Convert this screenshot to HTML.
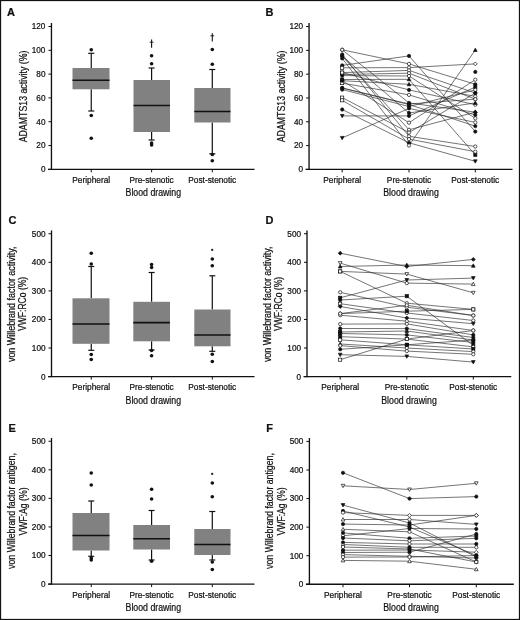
<!DOCTYPE html>
<html><head><meta charset="utf-8"><style>
html,body{margin:0;padding:0;background:#fff;}
body{width:520px;height:620px;overflow:hidden;font-family:"Liberation Sans", sans-serif;}
</style></head><body>
<svg width="520" height="620" viewBox="0 0 520 620" style="display:block;filter:grayscale(1)">
<g font-family='"Liberation Sans", sans-serif'>
<rect x="0" y="0" width="520" height="620" fill="#fff"/>
<rect x="0.5" y="0.5" width="519" height="619" fill="none" stroke="#111" stroke-width="1.25"/>
<text x="7.0" y="16.1" font-size="11" text-anchor="start" font-weight="bold" fill="#111" stroke="#111" stroke-width="0.22">A</text>
<text x="265.6" y="16.1" font-size="11" text-anchor="start" font-weight="bold" fill="#111" stroke="#111" stroke-width="0.22">B</text>
<text x="8.4" y="224.2" font-size="11" text-anchor="start" font-weight="bold" fill="#111" stroke="#111" stroke-width="0.22">C</text>
<text x="265.6" y="224.2" font-size="11" text-anchor="start" font-weight="bold" fill="#111" stroke="#111" stroke-width="0.22">D</text>
<text x="8.6" y="431.7" font-size="11" text-anchor="start" font-weight="bold" fill="#111" stroke="#111" stroke-width="0.22">E</text>
<text x="266.2" y="431.7" font-size="11" text-anchor="start" font-weight="bold" fill="#111" stroke="#111" stroke-width="0.22">F</text>
<line x1="51.45" y1="23" x2="51.45" y2="169.95" stroke="#111" stroke-width="1.35"/>
<line x1="48.45" y1="169.35" x2="51.45" y2="169.35" stroke="#111" stroke-width="1"/>
<text x="45.45" y="172.25" font-size="8.2" text-anchor="end" fill="#111" stroke="#111" stroke-width="0.22">0</text>
<line x1="48.45" y1="145.54" x2="51.45" y2="145.54" stroke="#111" stroke-width="1"/>
<text x="45.45" y="148.44" font-size="8.2" text-anchor="end" fill="#111" stroke="#111" stroke-width="0.22">20</text>
<line x1="48.45" y1="121.72999999999999" x2="51.45" y2="121.72999999999999" stroke="#111" stroke-width="1"/>
<text x="45.45" y="124.63" font-size="8.2" text-anchor="end" fill="#111" stroke="#111" stroke-width="0.22">40</text>
<line x1="48.45" y1="97.92" x2="51.45" y2="97.92" stroke="#111" stroke-width="1"/>
<text x="45.45" y="100.82000000000001" font-size="8.2" text-anchor="end" fill="#111" stroke="#111" stroke-width="0.22">60</text>
<line x1="48.45" y1="74.11" x2="51.45" y2="74.11" stroke="#111" stroke-width="1"/>
<text x="45.45" y="77.01" font-size="8.2" text-anchor="end" fill="#111" stroke="#111" stroke-width="0.22">80</text>
<line x1="48.45" y1="50.30000000000001" x2="51.45" y2="50.30000000000001" stroke="#111" stroke-width="1"/>
<text x="45.45" y="53.20000000000001" font-size="8.2" text-anchor="end" fill="#111" stroke="#111" stroke-width="0.22">100</text>
<line x1="48.45" y1="26.49000000000001" x2="51.45" y2="26.49000000000001" stroke="#111" stroke-width="1"/>
<text x="45.45" y="29.390000000000008" font-size="8.2" text-anchor="end" fill="#111" stroke="#111" stroke-width="0.22">120</text>
<line x1="47.95" y1="169.35" x2="254.5" y2="169.35" stroke="#111" stroke-width="1.3"/>
<line x1="91.25" y1="169.35" x2="91.25" y2="172.35" stroke="#111" stroke-width="1"/>
<line x1="151.6" y1="169.35" x2="151.6" y2="172.35" stroke="#111" stroke-width="1"/>
<line x1="212.3" y1="169.35" x2="212.3" y2="172.35" stroke="#111" stroke-width="1"/>
<text x="91.25" y="182.85" font-size="8.3" text-anchor="middle" fill="#111" stroke="#111" stroke-width="0.22">Peripheral</text>
<text x="151.6" y="182.85" font-size="8.3" text-anchor="middle" fill="#111" stroke="#111" stroke-width="0.22">Pre-stenotic</text>
<text x="212.3" y="182.85" font-size="8.3" text-anchor="middle" fill="#111" stroke="#111" stroke-width="0.22">Post-stenotic</text>
<text x="153.3" y="196.35" font-size="10" text-anchor="middle" textLength="55.5" lengthAdjust="spacingAndGlyphs" fill="#111" stroke="#111" stroke-width="0.22">Blood drawing</text>
<text x="27.3" y="96.45" font-size="10" text-anchor="middle" textLength="91.8" lengthAdjust="spacingAndGlyphs" transform="rotate(-90 27.3 96.45)" fill="#111" stroke="#111" stroke-width="0.22">ADAMTS13 activity (%)</text>
<line x1="91.25" y1="53.3" x2="91.25" y2="68" stroke="#111" stroke-width="1.2"/>
<line x1="91.25" y1="89.3" x2="91.25" y2="111" stroke="#111" stroke-width="1.2"/>
<line x1="88.25" y1="53.3" x2="94.25" y2="53.3" stroke="#111" stroke-width="1.2"/>
<line x1="88.25" y1="111" x2="94.25" y2="111" stroke="#111" stroke-width="1.2"/>
<rect x="72.5" y="68" width="37.0" height="21.299999999999997" fill="#818181"/>
<line x1="72.5" y1="80.2" x2="109.5" y2="80.2" stroke="#111" stroke-width="1.55"/>
<circle cx="91.25" cy="49.8" r="1.8" fill="#111"/>
<circle cx="91.25" cy="115.5" r="1.8" fill="#111"/>
<circle cx="91.25" cy="138.3" r="1.8" fill="#111"/>
<line x1="151.6" y1="68" x2="151.6" y2="80" stroke="#111" stroke-width="1.2"/>
<line x1="151.6" y1="132" x2="151.6" y2="140" stroke="#111" stroke-width="1.2"/>
<line x1="148.6" y1="68" x2="154.6" y2="68" stroke="#111" stroke-width="1.2"/>
<line x1="148.6" y1="140" x2="154.6" y2="140" stroke="#111" stroke-width="1.2"/>
<rect x="133.5" y="80" width="36.5" height="52" fill="#818181"/>
<line x1="133.5" y1="105.5" x2="170" y2="105.5" stroke="#111" stroke-width="1.55"/>
<circle cx="151.6" cy="55.8" r="1.8" fill="#111"/>
<circle cx="151.6" cy="63.8" r="1.8" fill="#111"/>
<circle cx="151.6" cy="143" r="1.8" fill="#111"/>
<circle cx="151.6" cy="145" r="1.8" fill="#111"/>
<line x1="212.3" y1="69.5" x2="212.3" y2="88" stroke="#111" stroke-width="1.2"/>
<line x1="212.3" y1="122.5" x2="212.3" y2="153.8" stroke="#111" stroke-width="1.2"/>
<line x1="209.3" y1="69.5" x2="215.3" y2="69.5" stroke="#111" stroke-width="1.2"/>
<line x1="209.3" y1="153.8" x2="215.3" y2="153.8" stroke="#111" stroke-width="1.2"/>
<rect x="194.3" y="88" width="36.19999999999999" height="34.5" fill="#818181"/>
<line x1="194.3" y1="111.5" x2="230.5" y2="111.5" stroke="#111" stroke-width="1.55"/>
<circle cx="212.3" cy="49.5" r="1.8" fill="#111"/>
<circle cx="212.3" cy="64.3" r="1.8" fill="#111"/>
<circle cx="212.3" cy="154.5" r="1.8" fill="#111"/>
<circle cx="212.3" cy="160.8" r="1.8" fill="#111"/>
<line x1="151.6" y1="39.5" x2="151.6" y2="47.7" stroke="#111" stroke-width="1.1"/>
<line x1="149.7" y1="42.2" x2="153.5" y2="42.2" stroke="#111" stroke-width="0.9"/>
<line x1="212.3" y1="33.3" x2="212.3" y2="41.5" stroke="#111" stroke-width="1.1"/>
<line x1="210.4" y1="35.8" x2="214.20000000000002" y2="35.8" stroke="#111" stroke-width="0.9"/>
<line x1="51.5" y1="230.5" x2="51.5" y2="377.20000000000005" stroke="#111" stroke-width="1.35"/>
<line x1="48.5" y1="376.6" x2="51.5" y2="376.6" stroke="#111" stroke-width="1"/>
<text x="45.5" y="379.5" font-size="8.2" text-anchor="end" fill="#111" stroke="#111" stroke-width="0.22">0</text>
<line x1="48.5" y1="348.03000000000003" x2="51.5" y2="348.03000000000003" stroke="#111" stroke-width="1"/>
<text x="45.5" y="350.93" font-size="8.2" text-anchor="end" fill="#111" stroke="#111" stroke-width="0.22">100</text>
<line x1="48.5" y1="319.46000000000004" x2="51.5" y2="319.46000000000004" stroke="#111" stroke-width="1"/>
<text x="45.5" y="322.36" font-size="8.2" text-anchor="end" fill="#111" stroke="#111" stroke-width="0.22">200</text>
<line x1="48.5" y1="290.89" x2="51.5" y2="290.89" stroke="#111" stroke-width="1"/>
<text x="45.5" y="293.78999999999996" font-size="8.2" text-anchor="end" fill="#111" stroke="#111" stroke-width="0.22">300</text>
<line x1="48.5" y1="262.32000000000005" x2="51.5" y2="262.32000000000005" stroke="#111" stroke-width="1"/>
<text x="45.5" y="265.22" font-size="8.2" text-anchor="end" fill="#111" stroke="#111" stroke-width="0.22">400</text>
<line x1="48.5" y1="233.75000000000003" x2="51.5" y2="233.75000000000003" stroke="#111" stroke-width="1"/>
<text x="45.5" y="236.65000000000003" font-size="8.2" text-anchor="end" fill="#111" stroke="#111" stroke-width="0.22">500</text>
<line x1="48.0" y1="376.6" x2="254.5" y2="376.6" stroke="#111" stroke-width="1.3"/>
<line x1="91.25" y1="376.6" x2="91.25" y2="379.6" stroke="#111" stroke-width="1"/>
<line x1="151.6" y1="376.6" x2="151.6" y2="379.6" stroke="#111" stroke-width="1"/>
<line x1="212.3" y1="376.6" x2="212.3" y2="379.6" stroke="#111" stroke-width="1"/>
<text x="91.25" y="390.1" font-size="8.3" text-anchor="middle" fill="#111" stroke="#111" stroke-width="0.22">Peripheral</text>
<text x="151.6" y="390.1" font-size="8.3" text-anchor="middle" fill="#111" stroke="#111" stroke-width="0.22">Pre-stenotic</text>
<text x="212.3" y="390.1" font-size="8.3" text-anchor="middle" fill="#111" stroke="#111" stroke-width="0.22">Post-stenotic</text>
<text x="153.3" y="403.6" font-size="10" text-anchor="middle" textLength="55.5" lengthAdjust="spacingAndGlyphs" fill="#111" stroke="#111" stroke-width="0.22">Blood drawing</text>
<text x="15.2" y="304.3" font-size="10" text-anchor="middle" textLength="115.6" lengthAdjust="spacingAndGlyphs" transform="rotate(-90 15.2 304.3)" fill="#111" stroke="#111" stroke-width="0.22">von Willebrand factor activity,</text>
<text x="26.5" y="303.9" font-size="10" text-anchor="middle" textLength="54.2" lengthAdjust="spacingAndGlyphs" transform="rotate(-90 26.5 303.9)" fill="#111" stroke="#111" stroke-width="0.22">VWF:RCo (%)</text>
<line x1="91.25" y1="266.5" x2="91.25" y2="298.3" stroke="#111" stroke-width="1.2"/>
<line x1="91.25" y1="343.8" x2="91.25" y2="350.3" stroke="#111" stroke-width="1.2"/>
<line x1="88.25" y1="266.5" x2="94.25" y2="266.5" stroke="#111" stroke-width="1.2"/>
<line x1="88.25" y1="350.3" x2="94.25" y2="350.3" stroke="#111" stroke-width="1.2"/>
<rect x="72.5" y="298.3" width="37.0" height="45.5" fill="#818181"/>
<line x1="72.5" y1="324" x2="109.5" y2="324" stroke="#111" stroke-width="1.55"/>
<circle cx="91.25" cy="253.3" r="1.8" fill="#111"/>
<circle cx="91.25" cy="264" r="1.8" fill="#111"/>
<circle cx="91.25" cy="354.5" r="1.8" fill="#111"/>
<circle cx="91.25" cy="359.5" r="1.8" fill="#111"/>
<line x1="151.6" y1="272.5" x2="151.6" y2="301.8" stroke="#111" stroke-width="1.2"/>
<line x1="151.6" y1="341.3" x2="151.6" y2="350" stroke="#111" stroke-width="1.2"/>
<line x1="148.6" y1="272.5" x2="154.6" y2="272.5" stroke="#111" stroke-width="1.2"/>
<line x1="148.6" y1="350" x2="154.6" y2="350" stroke="#111" stroke-width="1.2"/>
<rect x="133.3" y="301.8" width="36.69999999999999" height="39.5" fill="#818181"/>
<line x1="133.3" y1="322.6" x2="170" y2="322.6" stroke="#111" stroke-width="1.55"/>
<circle cx="151.6" cy="264.5" r="1.8" fill="#111"/>
<circle cx="151.6" cy="267.5" r="1.8" fill="#111"/>
<circle cx="151.6" cy="350.5" r="1.8" fill="#111"/>
<circle cx="151.6" cy="355.8" r="1.8" fill="#111"/>
<line x1="212.3" y1="275.8" x2="212.3" y2="309.5" stroke="#111" stroke-width="1.2"/>
<line x1="212.3" y1="346.3" x2="212.3" y2="351.3" stroke="#111" stroke-width="1.2"/>
<line x1="209.3" y1="275.8" x2="215.3" y2="275.8" stroke="#111" stroke-width="1.2"/>
<line x1="209.3" y1="351.3" x2="215.3" y2="351.3" stroke="#111" stroke-width="1.2"/>
<rect x="194.3" y="309.5" width="36.19999999999999" height="36.80000000000001" fill="#818181"/>
<line x1="194.3" y1="335" x2="230.5" y2="335" stroke="#111" stroke-width="1.55"/>
<circle cx="212.3" cy="259" r="1.8" fill="#111"/>
<circle cx="212.3" cy="265.8" r="1.8" fill="#111"/>
<circle cx="212.3" cy="354.3" r="1.8" fill="#111"/>
<circle cx="212.3" cy="361.5" r="1.8" fill="#111"/>
<circle cx="212.2" cy="249.9" r="1.15" fill="#222"/>
<line x1="51.5" y1="438" x2="51.5" y2="584.65" stroke="#111" stroke-width="1.35"/>
<line x1="48.5" y1="584.05" x2="51.5" y2="584.05" stroke="#111" stroke-width="1"/>
<text x="45.5" y="586.9499999999999" font-size="8.2" text-anchor="end" fill="#111" stroke="#111" stroke-width="0.22">0</text>
<line x1="48.5" y1="555.49" x2="51.5" y2="555.49" stroke="#111" stroke-width="1"/>
<text x="45.5" y="558.39" font-size="8.2" text-anchor="end" fill="#111" stroke="#111" stroke-width="0.22">100</text>
<line x1="48.5" y1="526.93" x2="51.5" y2="526.93" stroke="#111" stroke-width="1"/>
<text x="45.5" y="529.8299999999999" font-size="8.2" text-anchor="end" fill="#111" stroke="#111" stroke-width="0.22">200</text>
<line x1="48.5" y1="498.36999999999995" x2="51.5" y2="498.36999999999995" stroke="#111" stroke-width="1"/>
<text x="45.5" y="501.2699999999999" font-size="8.2" text-anchor="end" fill="#111" stroke="#111" stroke-width="0.22">300</text>
<line x1="48.5" y1="469.80999999999995" x2="51.5" y2="469.80999999999995" stroke="#111" stroke-width="1"/>
<text x="45.5" y="472.7099999999999" font-size="8.2" text-anchor="end" fill="#111" stroke="#111" stroke-width="0.22">400</text>
<line x1="48.5" y1="441.24999999999994" x2="51.5" y2="441.24999999999994" stroke="#111" stroke-width="1"/>
<text x="45.5" y="444.1499999999999" font-size="8.2" text-anchor="end" fill="#111" stroke="#111" stroke-width="0.22">500</text>
<line x1="48.0" y1="584.05" x2="254.5" y2="584.05" stroke="#111" stroke-width="1.3"/>
<line x1="91.25" y1="584.05" x2="91.25" y2="587.05" stroke="#111" stroke-width="1"/>
<line x1="151.6" y1="584.05" x2="151.6" y2="587.05" stroke="#111" stroke-width="1"/>
<line x1="212.3" y1="584.05" x2="212.3" y2="587.05" stroke="#111" stroke-width="1"/>
<text x="91.25" y="597.55" font-size="8.3" text-anchor="middle" fill="#111" stroke="#111" stroke-width="0.22">Peripheral</text>
<text x="151.6" y="597.55" font-size="8.3" text-anchor="middle" fill="#111" stroke="#111" stroke-width="0.22">Pre-stenotic</text>
<text x="212.3" y="597.55" font-size="8.3" text-anchor="middle" fill="#111" stroke="#111" stroke-width="0.22">Post-stenotic</text>
<text x="153.3" y="611.05" font-size="10" text-anchor="middle" textLength="55.5" lengthAdjust="spacingAndGlyphs" fill="#111" stroke="#111" stroke-width="0.22">Blood drawing</text>
<text x="15.2" y="511" font-size="10" text-anchor="middle" textLength="115.8" lengthAdjust="spacingAndGlyphs" transform="rotate(-90 15.2 511)" fill="#111" stroke="#111" stroke-width="0.22">von Willebrand factor antigen,</text>
<text x="26.5" y="511.5" font-size="10" text-anchor="middle" textLength="48.1" lengthAdjust="spacingAndGlyphs" transform="rotate(-90 26.5 511.5)" fill="#111" stroke="#111" stroke-width="0.22">VWF:Ag (%)</text>
<line x1="91.25" y1="501" x2="91.25" y2="513" stroke="#111" stroke-width="1.2"/>
<line x1="91.25" y1="550.5" x2="91.25" y2="556.3" stroke="#111" stroke-width="1.2"/>
<line x1="88.25" y1="501" x2="94.25" y2="501" stroke="#111" stroke-width="1.2"/>
<line x1="88.25" y1="556.3" x2="94.25" y2="556.3" stroke="#111" stroke-width="1.2"/>
<rect x="72.5" y="513" width="37.0" height="37.5" fill="#818181"/>
<line x1="72.5" y1="535.5" x2="109.5" y2="535.5" stroke="#111" stroke-width="1.55"/>
<circle cx="91.25" cy="473" r="1.8" fill="#111"/>
<circle cx="91.25" cy="485" r="1.8" fill="#111"/>
<circle cx="91.25" cy="558" r="1.8" fill="#111"/>
<circle cx="91.25" cy="560" r="1.8" fill="#111"/>
<line x1="151.6" y1="510.5" x2="151.6" y2="525" stroke="#111" stroke-width="1.2"/>
<line x1="151.6" y1="549.5" x2="151.6" y2="560" stroke="#111" stroke-width="1.2"/>
<line x1="148.6" y1="510.5" x2="154.6" y2="510.5" stroke="#111" stroke-width="1.2"/>
<line x1="148.6" y1="560" x2="154.6" y2="560" stroke="#111" stroke-width="1.2"/>
<rect x="133.3" y="525" width="36.69999999999999" height="24.5" fill="#818181"/>
<line x1="133.3" y1="538.8" x2="170" y2="538.8" stroke="#111" stroke-width="1.55"/>
<circle cx="151.6" cy="489.3" r="1.8" fill="#111"/>
<circle cx="151.6" cy="499" r="1.8" fill="#111"/>
<circle cx="151.6" cy="561.3" r="1.8" fill="#111"/>
<line x1="212.3" y1="511.5" x2="212.3" y2="529" stroke="#111" stroke-width="1.2"/>
<line x1="212.3" y1="555" x2="212.3" y2="560" stroke="#111" stroke-width="1.2"/>
<line x1="209.3" y1="511.5" x2="215.3" y2="511.5" stroke="#111" stroke-width="1.2"/>
<line x1="209.3" y1="560" x2="215.3" y2="560" stroke="#111" stroke-width="1.2"/>
<rect x="194.3" y="529" width="36.19999999999999" height="26" fill="#818181"/>
<line x1="194.3" y1="544.5" x2="230.5" y2="544.5" stroke="#111" stroke-width="1.55"/>
<circle cx="212.3" cy="483" r="1.8" fill="#111"/>
<circle cx="212.3" cy="496.8" r="1.8" fill="#111"/>
<circle cx="212.3" cy="562" r="1.8" fill="#111"/>
<circle cx="212.3" cy="569.5" r="1.8" fill="#111"/>
<circle cx="212.2" cy="473.9" r="1.15" fill="#222"/>
<line x1="309.05" y1="23" x2="309.05" y2="170.0" stroke="#111" stroke-width="1.35"/>
<line x1="306.05" y1="169.4" x2="309.05" y2="169.4" stroke="#111" stroke-width="1"/>
<text x="303.05" y="172.3" font-size="8.2" text-anchor="end" fill="#111" stroke="#111" stroke-width="0.22">0</text>
<line x1="306.05" y1="145.59" x2="309.05" y2="145.59" stroke="#111" stroke-width="1"/>
<text x="303.05" y="148.49" font-size="8.2" text-anchor="end" fill="#111" stroke="#111" stroke-width="0.22">20</text>
<line x1="306.05" y1="121.78" x2="309.05" y2="121.78" stroke="#111" stroke-width="1"/>
<text x="303.05" y="124.68" font-size="8.2" text-anchor="end" fill="#111" stroke="#111" stroke-width="0.22">40</text>
<line x1="306.05" y1="97.97000000000001" x2="309.05" y2="97.97000000000001" stroke="#111" stroke-width="1"/>
<text x="303.05" y="100.87000000000002" font-size="8.2" text-anchor="end" fill="#111" stroke="#111" stroke-width="0.22">60</text>
<line x1="306.05" y1="74.16000000000001" x2="309.05" y2="74.16000000000001" stroke="#111" stroke-width="1"/>
<text x="303.05" y="77.06000000000002" font-size="8.2" text-anchor="end" fill="#111" stroke="#111" stroke-width="0.22">80</text>
<line x1="306.05" y1="50.35000000000002" x2="309.05" y2="50.35000000000002" stroke="#111" stroke-width="1"/>
<text x="303.05" y="53.25000000000002" font-size="8.2" text-anchor="end" fill="#111" stroke="#111" stroke-width="0.22">100</text>
<line x1="306.05" y1="26.54000000000002" x2="309.05" y2="26.54000000000002" stroke="#111" stroke-width="1"/>
<text x="303.05" y="29.44000000000002" font-size="8.2" text-anchor="end" fill="#111" stroke="#111" stroke-width="0.22">120</text>
<line x1="305.55" y1="169.4" x2="512.5" y2="169.4" stroke="#111" stroke-width="1.3"/>
<line x1="342.2" y1="169.4" x2="342.2" y2="172.4" stroke="#111" stroke-width="1"/>
<line x1="409" y1="169.4" x2="409" y2="172.4" stroke="#111" stroke-width="1"/>
<line x1="475.3" y1="169.4" x2="475.3" y2="172.4" stroke="#111" stroke-width="1"/>
<text x="342.2" y="182.9" font-size="8.3" text-anchor="middle" fill="#111" stroke="#111" stroke-width="0.22">Peripheral</text>
<text x="409" y="182.9" font-size="8.3" text-anchor="middle" fill="#111" stroke="#111" stroke-width="0.22">Pre-stenotic</text>
<text x="475.3" y="182.9" font-size="8.3" text-anchor="middle" fill="#111" stroke="#111" stroke-width="0.22">Post-stenotic</text>
<text x="411" y="196.4" font-size="10" text-anchor="middle" textLength="55.5" lengthAdjust="spacingAndGlyphs" fill="#111" stroke="#111" stroke-width="0.22">Blood drawing</text>
<text x="285.3" y="96.4" font-size="10" text-anchor="middle" textLength="91.8" lengthAdjust="spacingAndGlyphs" transform="rotate(-90 285.3 96.4)" fill="#111" stroke="#111" stroke-width="0.22">ADAMTS13 activity (%)</text>
<line x1="307" y1="230.5" x2="307" y2="377.20000000000005" stroke="#111" stroke-width="1.35"/>
<line x1="304" y1="376.6" x2="307" y2="376.6" stroke="#111" stroke-width="1"/>
<text x="301" y="379.5" font-size="8.2" text-anchor="end" fill="#111" stroke="#111" stroke-width="0.22">0</text>
<line x1="304" y1="348.03000000000003" x2="307" y2="348.03000000000003" stroke="#111" stroke-width="1"/>
<text x="301" y="350.93" font-size="8.2" text-anchor="end" fill="#111" stroke="#111" stroke-width="0.22">100</text>
<line x1="304" y1="319.46000000000004" x2="307" y2="319.46000000000004" stroke="#111" stroke-width="1"/>
<text x="301" y="322.36" font-size="8.2" text-anchor="end" fill="#111" stroke="#111" stroke-width="0.22">200</text>
<line x1="304" y1="290.89" x2="307" y2="290.89" stroke="#111" stroke-width="1"/>
<text x="301" y="293.78999999999996" font-size="8.2" text-anchor="end" fill="#111" stroke="#111" stroke-width="0.22">300</text>
<line x1="304" y1="262.32000000000005" x2="307" y2="262.32000000000005" stroke="#111" stroke-width="1"/>
<text x="301" y="265.22" font-size="8.2" text-anchor="end" fill="#111" stroke="#111" stroke-width="0.22">400</text>
<line x1="304" y1="233.75000000000003" x2="307" y2="233.75000000000003" stroke="#111" stroke-width="1"/>
<text x="301" y="236.65000000000003" font-size="8.2" text-anchor="end" fill="#111" stroke="#111" stroke-width="0.22">500</text>
<line x1="303.5" y1="376.6" x2="511.3" y2="376.6" stroke="#111" stroke-width="1.3"/>
<line x1="340.2" y1="376.6" x2="340.2" y2="379.6" stroke="#111" stroke-width="1"/>
<line x1="406.8" y1="376.6" x2="406.8" y2="379.6" stroke="#111" stroke-width="1"/>
<line x1="473.3" y1="376.6" x2="473.3" y2="379.6" stroke="#111" stroke-width="1"/>
<text x="340.2" y="390.1" font-size="8.3" text-anchor="middle" fill="#111" stroke="#111" stroke-width="0.22">Peripheral</text>
<text x="406.8" y="390.1" font-size="8.3" text-anchor="middle" fill="#111" stroke="#111" stroke-width="0.22">Pre-stenotic</text>
<text x="473.3" y="390.1" font-size="8.3" text-anchor="middle" fill="#111" stroke="#111" stroke-width="0.22">Post-stenotic</text>
<text x="409" y="403.6" font-size="10" text-anchor="middle" textLength="55.5" lengthAdjust="spacingAndGlyphs" fill="#111" stroke="#111" stroke-width="0.22">Blood drawing</text>
<text x="270.6" y="304.3" font-size="10" text-anchor="middle" textLength="115.6" lengthAdjust="spacingAndGlyphs" transform="rotate(-90 270.6 304.3)" fill="#111" stroke="#111" stroke-width="0.22">von Willebrand factor activity,</text>
<text x="281.8" y="303.9" font-size="10" text-anchor="middle" textLength="54.2" lengthAdjust="spacingAndGlyphs" transform="rotate(-90 281.8 303.9)" fill="#111" stroke="#111" stroke-width="0.22">VWF:RCo (%)</text>
<line x1="309.4" y1="438" x2="309.4" y2="584.85" stroke="#111" stroke-width="1.35"/>
<line x1="306.4" y1="584.25" x2="309.4" y2="584.25" stroke="#111" stroke-width="1"/>
<text x="303.4" y="587.15" font-size="8.2" text-anchor="end" fill="#111" stroke="#111" stroke-width="0.22">0</text>
<line x1="306.4" y1="555.69" x2="309.4" y2="555.69" stroke="#111" stroke-width="1"/>
<text x="303.4" y="558.59" font-size="8.2" text-anchor="end" fill="#111" stroke="#111" stroke-width="0.22">100</text>
<line x1="306.4" y1="527.13" x2="309.4" y2="527.13" stroke="#111" stroke-width="1"/>
<text x="303.4" y="530.03" font-size="8.2" text-anchor="end" fill="#111" stroke="#111" stroke-width="0.22">200</text>
<line x1="306.4" y1="498.57" x2="309.4" y2="498.57" stroke="#111" stroke-width="1"/>
<text x="303.4" y="501.46999999999997" font-size="8.2" text-anchor="end" fill="#111" stroke="#111" stroke-width="0.22">300</text>
<line x1="306.4" y1="470.01" x2="309.4" y2="470.01" stroke="#111" stroke-width="1"/>
<text x="303.4" y="472.90999999999997" font-size="8.2" text-anchor="end" fill="#111" stroke="#111" stroke-width="0.22">400</text>
<line x1="306.4" y1="441.45" x2="309.4" y2="441.45" stroke="#111" stroke-width="1"/>
<text x="303.4" y="444.34999999999997" font-size="8.2" text-anchor="end" fill="#111" stroke="#111" stroke-width="0.22">500</text>
<line x1="305.9" y1="584.25" x2="513.8" y2="584.25" stroke="#111" stroke-width="1.3"/>
<line x1="343" y1="584.25" x2="343" y2="587.25" stroke="#111" stroke-width="1"/>
<line x1="409.5" y1="584.25" x2="409.5" y2="587.25" stroke="#111" stroke-width="1"/>
<line x1="476.3" y1="584.25" x2="476.3" y2="587.25" stroke="#111" stroke-width="1"/>
<text x="343" y="597.75" font-size="8.3" text-anchor="middle" fill="#111" stroke="#111" stroke-width="0.22">Peripheral</text>
<text x="409.5" y="597.75" font-size="8.3" text-anchor="middle" fill="#111" stroke="#111" stroke-width="0.22">Pre-stenotic</text>
<text x="476.3" y="597.75" font-size="8.3" text-anchor="middle" fill="#111" stroke="#111" stroke-width="0.22">Post-stenotic</text>
<text x="411" y="611.25" font-size="10" text-anchor="middle" textLength="55.5" lengthAdjust="spacingAndGlyphs" fill="#111" stroke="#111" stroke-width="0.22">Blood drawing</text>
<text x="273.2" y="511" font-size="10" text-anchor="middle" textLength="115.8" lengthAdjust="spacingAndGlyphs" transform="rotate(-90 273.2 511)" fill="#111" stroke="#111" stroke-width="0.22">von Willebrand factor antigen,</text>
<text x="284.8" y="511.5" font-size="10" text-anchor="middle" textLength="48.1" lengthAdjust="spacingAndGlyphs" transform="rotate(-90 284.8 511.5)" fill="#111" stroke="#111" stroke-width="0.22">VWF:Ag (%)</text>
<polyline points="342.2,49.8 409,63.9 475.3,84.3" fill="none" stroke="#2a2a2a" stroke-width="0.65"/>
<polyline points="342.2,49.8 409,102.9 475.3,112.2" fill="none" stroke="#2a2a2a" stroke-width="0.65"/>
<polyline points="342.2,65.4 409,55.9 475.3,131.6" fill="none" stroke="#2a2a2a" stroke-width="0.65"/>
<polyline points="342.2,137.9 409,108.4 475.3,122.4" fill="none" stroke="#2a2a2a" stroke-width="0.65"/>
<polyline points="342.2,115.9 409,115.9 475.3,87.1" fill="none" stroke="#2a2a2a" stroke-width="0.65"/>
<polyline points="342.2,109.5 409,142.8 475.3,161.3" fill="none" stroke="#2a2a2a" stroke-width="0.65"/>
<polyline points="342.2,54.5 409,136.3 475.3,146.5" fill="none" stroke="#2a2a2a" stroke-width="0.65"/>
<polyline points="342.2,56.1 409,129.8 475.3,112.2" fill="none" stroke="#2a2a2a" stroke-width="0.65"/>
<polyline points="342.2,58.4 409,145.5 475.3,50" fill="none" stroke="#2a2a2a" stroke-width="0.65"/>
<polyline points="342.2,67.8 409,67.6 475.3,63.9" fill="none" stroke="#2a2a2a" stroke-width="0.65"/>
<polyline points="342.2,72.6 409,70.4 475.3,93" fill="none" stroke="#2a2a2a" stroke-width="0.65"/>
<polyline points="342.2,74.5 409,73.2 475.3,99.2" fill="none" stroke="#2a2a2a" stroke-width="0.65"/>
<polyline points="342.2,75.6 409,76 475.3,118.3" fill="none" stroke="#2a2a2a" stroke-width="0.65"/>
<polyline points="342.2,79.5 409,79.3 475.3,154.8" fill="none" stroke="#2a2a2a" stroke-width="0.65"/>
<polyline points="342.2,80.7 409,84.3 475.3,96.4" fill="none" stroke="#2a2a2a" stroke-width="0.65"/>
<polyline points="342.2,83.1 409,94.9 475.3,114.9" fill="none" stroke="#2a2a2a" stroke-width="0.65"/>
<polyline points="342.2,88 409,104.5 475.3,126.1" fill="none" stroke="#2a2a2a" stroke-width="0.65"/>
<polyline points="342.2,89.6 409,106.5 475.3,89.9" fill="none" stroke="#2a2a2a" stroke-width="0.65"/>
<polyline points="342.2,97.6 409,132.6 475.3,93" fill="none" stroke="#2a2a2a" stroke-width="0.65"/>
<polyline points="342.2,100.3 409,139.1 475.3,151.7" fill="none" stroke="#2a2a2a" stroke-width="0.65"/>
<polyline points="342.2,72.6 409,89.9 475.3,104.7" fill="none" stroke="#2a2a2a" stroke-width="0.65"/>
<polyline points="342.2,56.1 409,113 475.3,102.9" fill="none" stroke="#2a2a2a" stroke-width="0.65"/>
<polyline points="342.2,80.7 409,122.7 475.3,79.7" fill="none" stroke="#2a2a2a" stroke-width="0.65"/>
<polyline points="342.2,88 409,104 475.3,99.2" fill="none" stroke="#2a2a2a" stroke-width="0.65"/>
<circle cx="342.2" cy="49.8" r="1.65" fill="#fff" stroke="#111" stroke-width="0.7"/>
<circle cx="409" cy="63.9" r="1.65" fill="#fff" stroke="#111" stroke-width="0.7"/>
<circle cx="475.3" cy="84.3" r="1.65" fill="#111" stroke="#111" stroke-width="0.7"/>
<circle cx="342.2" cy="49.8" r="1.65" fill="#fff" stroke="#111" stroke-width="0.7"/>
<circle cx="409" cy="102.9" r="1.65" fill="#111" stroke="#111" stroke-width="0.7"/>
<polygon points="475.3,110.25 477.25,112.2 475.3,114.15 473.35,112.2" fill="#111" stroke="#111" stroke-width="0.7"/>
<circle cx="342.2" cy="65.4" r="1.65" fill="#111" stroke="#111" stroke-width="0.7"/>
<circle cx="409" cy="55.9" r="1.65" fill="#111" stroke="#111" stroke-width="0.7"/>
<circle cx="475.3" cy="131.6" r="1.65" fill="#111" stroke="#111" stroke-width="0.7"/>
<polygon points="340.34999999999997,136.42000000000002 344.05,136.42000000000002 342.2,139.75" fill="#111" stroke="#111" stroke-width="0.7"/>
<circle cx="409" cy="108.4" r="1.65" fill="#111" stroke="#111" stroke-width="0.7"/>
<circle cx="475.3" cy="122.4" r="1.65" fill="#fff" stroke="#111" stroke-width="0.7"/>
<polygon points="340.34999999999997,114.42 344.05,114.42 342.2,117.75" fill="#111" stroke="#111" stroke-width="0.7"/>
<circle cx="409" cy="115.9" r="1.65" fill="#111" stroke="#111" stroke-width="0.7"/>
<rect x="473.75" y="85.55" width="3.1" height="3.1" fill="#111" stroke="#111" stroke-width="0.7"/>
<circle cx="342.2" cy="109.5" r="1.65" fill="#111" stroke="#111" stroke-width="0.7"/>
<circle cx="409" cy="142.8" r="1.65" fill="#111" stroke="#111" stroke-width="0.7"/>
<polygon points="473.45,159.82000000000002 477.15000000000003,159.82000000000002 475.3,163.15" fill="#111" stroke="#111" stroke-width="0.7"/>
<circle cx="342.2" cy="54.5" r="1.65" fill="#111" stroke="#111" stroke-width="0.7"/>
<circle cx="409" cy="136.3" r="1.65" fill="#fff" stroke="#111" stroke-width="0.7"/>
<circle cx="475.3" cy="146.5" r="1.65" fill="#fff" stroke="#111" stroke-width="0.7"/>
<circle cx="342.2" cy="56.1" r="1.65" fill="#111" stroke="#111" stroke-width="0.7"/>
<circle cx="409" cy="129.8" r="1.65" fill="#fff" stroke="#111" stroke-width="0.7"/>
<polygon points="475.3,110.25 477.25,112.2 475.3,114.15 473.35,112.2" fill="#111" stroke="#111" stroke-width="0.7"/>
<circle cx="342.2" cy="58.4" r="1.65" fill="#111" stroke="#111" stroke-width="0.7"/>
<circle cx="409" cy="145.5" r="1.65" fill="#fff" stroke="#111" stroke-width="0.7"/>
<polygon points="473.45,51.48 477.15000000000003,51.48 475.3,48.15" fill="#111" stroke="#111" stroke-width="0.7"/>
<rect x="340.65" y="66.25" width="3.1" height="3.1" fill="#fff" stroke="#111" stroke-width="0.7"/>
<circle cx="409" cy="67.6" r="1.65" fill="#fff" stroke="#111" stroke-width="0.7"/>
<polygon points="475.3,61.949999999999996 477.25,63.9 475.3,65.85 473.35,63.9" fill="#fff" stroke="#111" stroke-width="0.7"/>
<rect x="340.65" y="71.05" width="3.1" height="3.1" fill="#fff" stroke="#111" stroke-width="0.7"/>
<circle cx="409" cy="70.4" r="1.65" fill="#fff" stroke="#111" stroke-width="0.7"/>
<circle cx="475.3" cy="93" r="1.65" fill="#111" stroke="#111" stroke-width="0.7"/>
<circle cx="342.2" cy="74.5" r="1.65" fill="#111" stroke="#111" stroke-width="0.7"/>
<circle cx="409" cy="73.2" r="1.65" fill="#fff" stroke="#111" stroke-width="0.7"/>
<circle cx="475.3" cy="99.2" r="1.65" fill="#fff" stroke="#111" stroke-width="0.7"/>
<circle cx="342.2" cy="75.6" r="1.65" fill="#111" stroke="#111" stroke-width="0.7"/>
<circle cx="409" cy="76" r="1.65" fill="#fff" stroke="#111" stroke-width="0.7"/>
<circle cx="475.3" cy="118.3" r="1.65" fill="#fff" stroke="#111" stroke-width="0.7"/>
<rect x="340.65" y="77.95" width="3.1" height="3.1" fill="#111" stroke="#111" stroke-width="0.7"/>
<polygon points="407.15,80.78 410.85,80.78 409,77.45" fill="#111" stroke="#111" stroke-width="0.7"/>
<rect x="473.75" y="153.25" width="3.1" height="3.1" fill="#111" stroke="#111" stroke-width="0.7"/>
<circle cx="342.2" cy="80.7" r="1.65" fill="#111" stroke="#111" stroke-width="0.7"/>
<polygon points="407.15,85.78 410.85,85.78 409,82.45" fill="#111" stroke="#111" stroke-width="0.7"/>
<circle cx="475.3" cy="96.4" r="1.65" fill="#fff" stroke="#111" stroke-width="0.7"/>
<rect x="340.65" y="81.55" width="3.1" height="3.1" fill="#fff" stroke="#111" stroke-width="0.7"/>
<circle cx="409" cy="94.9" r="1.65" fill="#fff" stroke="#111" stroke-width="0.7"/>
<circle cx="475.3" cy="114.9" r="1.65" fill="#111" stroke="#111" stroke-width="0.7"/>
<circle cx="342.2" cy="88" r="1.65" fill="#111" stroke="#111" stroke-width="0.7"/>
<circle cx="409" cy="104.5" r="1.65" fill="#111" stroke="#111" stroke-width="0.7"/>
<circle cx="475.3" cy="126.1" r="1.65" fill="#111" stroke="#111" stroke-width="0.7"/>
<circle cx="342.2" cy="89.6" r="1.65" fill="#111" stroke="#111" stroke-width="0.7"/>
<circle cx="409" cy="106.5" r="1.65" fill="#111" stroke="#111" stroke-width="0.7"/>
<circle cx="475.3" cy="89.9" r="1.65" fill="#fff" stroke="#111" stroke-width="0.7"/>
<rect x="340.65" y="96.05" width="3.1" height="3.1" fill="#fff" stroke="#111" stroke-width="0.7"/>
<circle cx="409" cy="132.6" r="1.65" fill="#fff" stroke="#111" stroke-width="0.7"/>
<circle cx="475.3" cy="93" r="1.65" fill="#111" stroke="#111" stroke-width="0.7"/>
<rect x="340.65" y="98.75" width="3.1" height="3.1" fill="#fff" stroke="#111" stroke-width="0.7"/>
<circle cx="409" cy="139.1" r="1.65" fill="#fff" stroke="#111" stroke-width="0.7"/>
<circle cx="475.3" cy="151.7" r="1.65" fill="#fff" stroke="#111" stroke-width="0.7"/>
<rect x="340.65" y="71.05" width="3.1" height="3.1" fill="#fff" stroke="#111" stroke-width="0.7"/>
<circle cx="409" cy="89.9" r="1.65" fill="#111" stroke="#111" stroke-width="0.7"/>
<circle cx="475.3" cy="104.7" r="1.65" fill="#fff" stroke="#111" stroke-width="0.7"/>
<circle cx="342.2" cy="56.1" r="1.65" fill="#111" stroke="#111" stroke-width="0.7"/>
<circle cx="409" cy="113" r="1.65" fill="#111" stroke="#111" stroke-width="0.7"/>
<polygon points="473.45,104.38000000000001 477.15000000000003,104.38000000000001 475.3,101.05000000000001" fill="#111" stroke="#111" stroke-width="0.7"/>
<circle cx="342.2" cy="80.7" r="1.65" fill="#111" stroke="#111" stroke-width="0.7"/>
<circle cx="409" cy="122.7" r="1.65" fill="#fff" stroke="#111" stroke-width="0.7"/>
<circle cx="475.3" cy="79.7" r="1.65" fill="#fff" stroke="#111" stroke-width="0.7"/>
<circle cx="342.2" cy="88" r="1.65" fill="#111" stroke="#111" stroke-width="0.7"/>
<circle cx="409" cy="104" r="1.65" fill="#111" stroke="#111" stroke-width="0.7"/>
<circle cx="475.3" cy="99.2" r="1.65" fill="#fff" stroke="#111" stroke-width="0.7"/>
<circle cx="475.3" cy="71.9" r="1.65" fill="#111" stroke="#111" stroke-width="0.7"/>
<polyline points="340.2,253.2 406.8,266.5 473.3,259.4" fill="none" stroke="#2a2a2a" stroke-width="0.65"/>
<polyline points="340.2,266.5 406.8,265 473.3,265.7" fill="none" stroke="#2a2a2a" stroke-width="0.65"/>
<polyline points="340.2,263.1 406.8,283.1 473.3,284.1" fill="none" stroke="#2a2a2a" stroke-width="0.65"/>
<polyline points="340.2,271.4 406.8,274.1 473.3,292.8" fill="none" stroke="#2a2a2a" stroke-width="0.65"/>
<polyline points="340.2,271.4 406.8,303.2 473.3,309.4" fill="none" stroke="#2a2a2a" stroke-width="0.65"/>
<polyline points="340.2,292.3 406.8,307.2 473.3,315.5" fill="none" stroke="#2a2a2a" stroke-width="0.65"/>
<polyline points="340.2,297.8 406.8,280 473.3,278.1" fill="none" stroke="#2a2a2a" stroke-width="0.65"/>
<polyline points="340.2,300 406.8,296.2 473.3,345.4" fill="none" stroke="#2a2a2a" stroke-width="0.65"/>
<polyline points="340.2,303.7 406.8,313 473.3,320.5" fill="none" stroke="#2a2a2a" stroke-width="0.65"/>
<polyline points="340.2,306.5 406.8,318 473.3,323.7" fill="none" stroke="#2a2a2a" stroke-width="0.65"/>
<polyline points="340.2,313.6 406.8,311.2 473.3,309.4" fill="none" stroke="#2a2a2a" stroke-width="0.65"/>
<polyline points="340.2,315.2 406.8,321.2 473.3,330.5" fill="none" stroke="#2a2a2a" stroke-width="0.65"/>
<polyline points="340.2,324.1 406.8,323.9 473.3,334.9" fill="none" stroke="#2a2a2a" stroke-width="0.65"/>
<polyline points="340.2,328.5 406.8,328.6 473.3,337.5" fill="none" stroke="#2a2a2a" stroke-width="0.65"/>
<polyline points="340.2,332 406.8,331 473.3,340" fill="none" stroke="#2a2a2a" stroke-width="0.65"/>
<polyline points="340.2,333.5 406.8,334.9 473.3,342.5" fill="none" stroke="#2a2a2a" stroke-width="0.65"/>
<polyline points="340.2,336.7 406.8,339.1 473.3,346.9" fill="none" stroke="#2a2a2a" stroke-width="0.65"/>
<polyline points="340.2,339.8 406.8,344.8 473.3,349" fill="none" stroke="#2a2a2a" stroke-width="0.65"/>
<polyline points="340.2,344 406.8,348 473.3,351.6" fill="none" stroke="#2a2a2a" stroke-width="0.65"/>
<polyline points="340.2,345.6 406.8,351.1 473.3,354.3" fill="none" stroke="#2a2a2a" stroke-width="0.65"/>
<polyline points="340.2,349.3 406.8,344.8 473.3,340" fill="none" stroke="#2a2a2a" stroke-width="0.65"/>
<polyline points="340.2,354.7 406.8,356.4 473.3,362.1" fill="none" stroke="#2a2a2a" stroke-width="0.65"/>
<polyline points="340.2,359.7 406.8,339.1 473.3,330.5" fill="none" stroke="#2a2a2a" stroke-width="0.65"/>
<polyline points="340.2,313.6 406.8,305.3 473.3,315.5" fill="none" stroke="#2a2a2a" stroke-width="0.65"/>
<polygon points="340.2,251.25 342.15,253.2 340.2,255.14999999999998 338.25,253.2" fill="#111" stroke="#111" stroke-width="0.7"/>
<polygon points="406.8,264.55 408.75,266.5 406.8,268.45 404.85,266.5" fill="#111" stroke="#111" stroke-width="0.7"/>
<polygon points="473.3,257.45 475.25,259.4 473.3,261.34999999999997 471.35,259.4" fill="#111" stroke="#111" stroke-width="0.7"/>
<polygon points="338.34999999999997,267.98 342.05,267.98 340.2,264.65" fill="#111" stroke="#111" stroke-width="0.7"/>
<polygon points="404.95,266.48 408.65000000000003,266.48 406.8,263.15" fill="#111" stroke="#111" stroke-width="0.7"/>
<polygon points="471.45,267.18 475.15000000000003,267.18 473.3,263.84999999999997" fill="#111" stroke="#111" stroke-width="0.7"/>
<polygon points="338.34999999999997,261.62 342.05,261.62 340.2,264.95000000000005" fill="#fff" stroke="#111" stroke-width="0.7"/>
<circle cx="406.8" cy="283.1" r="1.65" fill="#fff" stroke="#111" stroke-width="0.7"/>
<polygon points="471.45,285.58000000000004 475.15000000000003,285.58000000000004 473.3,282.25" fill="#fff" stroke="#111" stroke-width="0.7"/>
<rect x="338.65" y="269.84999999999997" width="3.1" height="3.1" fill="#fff" stroke="#111" stroke-width="0.7"/>
<polygon points="404.95,272.62 408.65000000000003,272.62 406.8,275.95000000000005" fill="#fff" stroke="#111" stroke-width="0.7"/>
<polygon points="471.45,291.32 475.15000000000003,291.32 473.3,294.65000000000003" fill="#fff" stroke="#111" stroke-width="0.7"/>
<rect x="338.65" y="269.84999999999997" width="3.1" height="3.1" fill="#fff" stroke="#111" stroke-width="0.7"/>
<circle cx="406.8" cy="303.2" r="1.65" fill="#fff" stroke="#111" stroke-width="0.7"/>
<rect x="471.75" y="307.84999999999997" width="3.1" height="3.1" fill="#fff" stroke="#111" stroke-width="0.7"/>
<circle cx="340.2" cy="292.3" r="1.65" fill="#fff" stroke="#111" stroke-width="0.7"/>
<circle cx="406.8" cy="307.2" r="1.65" fill="#fff" stroke="#111" stroke-width="0.7"/>
<circle cx="473.3" cy="315.5" r="1.65" fill="#fff" stroke="#111" stroke-width="0.7"/>
<rect x="338.65" y="296.25" width="3.1" height="3.1" fill="#111" stroke="#111" stroke-width="0.7"/>
<polygon points="404.95,278.52 408.65000000000003,278.52 406.8,281.85" fill="#111" stroke="#111" stroke-width="0.7"/>
<polygon points="471.45,276.62 475.15000000000003,276.62 473.3,279.95000000000005" fill="#111" stroke="#111" stroke-width="0.7"/>
<circle cx="340.2" cy="300" r="1.65" fill="#111" stroke="#111" stroke-width="0.7"/>
<rect x="405.25" y="294.65" width="3.1" height="3.1" fill="#111" stroke="#111" stroke-width="0.7"/>
<circle cx="473.3" cy="345.4" r="1.65" fill="#111" stroke="#111" stroke-width="0.7"/>
<rect x="338.65" y="302.15" width="3.1" height="3.1" fill="#fff" stroke="#111" stroke-width="0.7"/>
<circle cx="406.8" cy="313" r="1.65" fill="#fff" stroke="#111" stroke-width="0.7"/>
<circle cx="473.3" cy="320.5" r="1.65" fill="#fff" stroke="#111" stroke-width="0.7"/>
<polygon points="340.2,304.55 342.15,306.5 340.2,308.45 338.25,306.5" fill="#111" stroke="#111" stroke-width="0.7"/>
<polygon points="406.8,316.05 408.75,318 406.8,319.95 404.85,318" fill="#111" stroke="#111" stroke-width="0.7"/>
<polygon points="471.45,322.21999999999997 475.15000000000003,322.21999999999997 473.3,325.55" fill="#111" stroke="#111" stroke-width="0.7"/>
<circle cx="340.2" cy="313.6" r="1.65" fill="#fff" stroke="#111" stroke-width="0.7"/>
<rect x="405.25" y="309.65" width="3.1" height="3.1" fill="#111" stroke="#111" stroke-width="0.7"/>
<rect x="471.75" y="307.84999999999997" width="3.1" height="3.1" fill="#fff" stroke="#111" stroke-width="0.7"/>
<circle cx="340.2" cy="315.2" r="1.65" fill="#fff" stroke="#111" stroke-width="0.7"/>
<circle cx="406.8" cy="321.2" r="1.65" fill="#fff" stroke="#111" stroke-width="0.7"/>
<circle cx="473.3" cy="330.5" r="1.65" fill="#fff" stroke="#111" stroke-width="0.7"/>
<circle cx="340.2" cy="324.1" r="1.65" fill="#fff" stroke="#111" stroke-width="0.7"/>
<circle cx="406.8" cy="323.9" r="1.65" fill="#fff" stroke="#111" stroke-width="0.7"/>
<circle cx="473.3" cy="334.9" r="1.65" fill="#111" stroke="#111" stroke-width="0.7"/>
<circle cx="340.2" cy="328.5" r="1.65" fill="#111" stroke="#111" stroke-width="0.7"/>
<circle cx="406.8" cy="328.6" r="1.65" fill="#111" stroke="#111" stroke-width="0.7"/>
<circle cx="473.3" cy="337.5" r="1.65" fill="#111" stroke="#111" stroke-width="0.7"/>
<rect x="338.65" y="330.45" width="3.1" height="3.1" fill="#111" stroke="#111" stroke-width="0.7"/>
<polygon points="404.95,332.48 408.65000000000003,332.48 406.8,329.15" fill="#111" stroke="#111" stroke-width="0.7"/>
<circle cx="473.3" cy="340" r="1.65" fill="#111" stroke="#111" stroke-width="0.7"/>
<rect x="338.65" y="331.95" width="3.1" height="3.1" fill="#111" stroke="#111" stroke-width="0.7"/>
<circle cx="406.8" cy="334.9" r="1.65" fill="#111" stroke="#111" stroke-width="0.7"/>
<rect x="471.75" y="340.95" width="3.1" height="3.1" fill="#111" stroke="#111" stroke-width="0.7"/>
<rect x="338.65" y="335.15" width="3.1" height="3.1" fill="#111" stroke="#111" stroke-width="0.7"/>
<rect x="405.25" y="337.55" width="3.1" height="3.1" fill="#fff" stroke="#111" stroke-width="0.7"/>
<circle cx="473.3" cy="346.9" r="1.65" fill="#fff" stroke="#111" stroke-width="0.7"/>
<rect x="338.65" y="338.25" width="3.1" height="3.1" fill="#fff" stroke="#111" stroke-width="0.7"/>
<rect x="405.25" y="343.25" width="3.1" height="3.1" fill="#111" stroke="#111" stroke-width="0.7"/>
<rect x="471.75" y="347.45" width="3.1" height="3.1" fill="#111" stroke="#111" stroke-width="0.7"/>
<polygon points="338.34999999999997,345.48 342.05,345.48 340.2,342.15" fill="#111" stroke="#111" stroke-width="0.7"/>
<circle cx="406.8" cy="348" r="1.65" fill="#fff" stroke="#111" stroke-width="0.7"/>
<circle cx="473.3" cy="351.6" r="1.65" fill="#fff" stroke="#111" stroke-width="0.7"/>
<circle cx="340.2" cy="345.6" r="1.65" fill="#fff" stroke="#111" stroke-width="0.7"/>
<circle cx="406.8" cy="351.1" r="1.65" fill="#fff" stroke="#111" stroke-width="0.7"/>
<circle cx="473.3" cy="354.3" r="1.65" fill="#fff" stroke="#111" stroke-width="0.7"/>
<circle cx="340.2" cy="349.3" r="1.65" fill="#111" stroke="#111" stroke-width="0.7"/>
<rect x="405.25" y="343.25" width="3.1" height="3.1" fill="#111" stroke="#111" stroke-width="0.7"/>
<circle cx="473.3" cy="340" r="1.65" fill="#111" stroke="#111" stroke-width="0.7"/>
<polygon points="338.34999999999997,353.21999999999997 342.05,353.21999999999997 340.2,356.55" fill="#111" stroke="#111" stroke-width="0.7"/>
<polygon points="404.95,354.91999999999996 408.65000000000003,354.91999999999996 406.8,358.25" fill="#111" stroke="#111" stroke-width="0.7"/>
<polygon points="471.45,360.62 475.15000000000003,360.62 473.3,363.95000000000005" fill="#111" stroke="#111" stroke-width="0.7"/>
<rect x="338.65" y="358.15" width="3.1" height="3.1" fill="#fff" stroke="#111" stroke-width="0.7"/>
<rect x="405.25" y="337.55" width="3.1" height="3.1" fill="#fff" stroke="#111" stroke-width="0.7"/>
<circle cx="473.3" cy="330.5" r="1.65" fill="#fff" stroke="#111" stroke-width="0.7"/>
<circle cx="340.2" cy="313.6" r="1.65" fill="#fff" stroke="#111" stroke-width="0.7"/>
<circle cx="406.8" cy="305.3" r="1.65" fill="#fff" stroke="#111" stroke-width="0.7"/>
<circle cx="473.3" cy="315.5" r="1.65" fill="#fff" stroke="#111" stroke-width="0.7"/>
<polyline points="343,472.8 409.5,498.6 476.3,496.6" fill="none" stroke="#2a2a2a" stroke-width="0.65"/>
<polyline points="343,485.8 409.5,489.5 476.3,483.3" fill="none" stroke="#2a2a2a" stroke-width="0.65"/>
<polyline points="343,505.1 409.5,523 476.3,557" fill="none" stroke="#2a2a2a" stroke-width="0.65"/>
<polyline points="343,511 409.5,527 476.3,555.5" fill="none" stroke="#2a2a2a" stroke-width="0.65"/>
<polyline points="343,512.6 409.5,515.4 476.3,515.4" fill="none" stroke="#2a2a2a" stroke-width="0.65"/>
<polyline points="343,519.5 409.5,519.5 476.3,524.4" fill="none" stroke="#2a2a2a" stroke-width="0.65"/>
<polyline points="343,524.1 409.5,525 476.3,515.4" fill="none" stroke="#2a2a2a" stroke-width="0.65"/>
<polyline points="343,529.3 409.5,531.8 476.3,562" fill="none" stroke="#2a2a2a" stroke-width="0.65"/>
<polyline points="343,532.9 409.5,538.3 476.3,536" fill="none" stroke="#2a2a2a" stroke-width="0.65"/>
<polyline points="343,535.8 409.5,528.5 476.3,529" fill="none" stroke="#2a2a2a" stroke-width="0.65"/>
<polyline points="343,538 409.5,540.8 476.3,538.3" fill="none" stroke="#2a2a2a" stroke-width="0.65"/>
<polyline points="343,542.4 409.5,544 476.3,544" fill="none" stroke="#2a2a2a" stroke-width="0.65"/>
<polyline points="343,544.5 409.5,547.3 476.3,547.3" fill="none" stroke="#2a2a2a" stroke-width="0.65"/>
<polyline points="343,550.2 409.5,550 476.3,552.2" fill="none" stroke="#2a2a2a" stroke-width="0.65"/>
<polyline points="343,552.5 409.5,552.2 476.3,534" fill="none" stroke="#2a2a2a" stroke-width="0.65"/>
<polyline points="343,554.6 409.5,556.3 476.3,558" fill="none" stroke="#2a2a2a" stroke-width="0.65"/>
<polyline points="343,557.1 409.5,557 476.3,555.5" fill="none" stroke="#2a2a2a" stroke-width="0.65"/>
<polyline points="343,560.4 409.5,561.2 476.3,569.3" fill="none" stroke="#2a2a2a" stroke-width="0.65"/>
<polyline points="343,547 409.5,549 476.3,562" fill="none" stroke="#2a2a2a" stroke-width="0.65"/>
<circle cx="343" cy="472.8" r="1.65" fill="#111" stroke="#111" stroke-width="0.7"/>
<circle cx="409.5" cy="498.6" r="1.65" fill="#111" stroke="#111" stroke-width="0.7"/>
<circle cx="476.3" cy="496.6" r="1.65" fill="#111" stroke="#111" stroke-width="0.7"/>
<polygon points="341.15,484.32 344.85,484.32 343,487.65000000000003" fill="#fff" stroke="#111" stroke-width="0.7"/>
<polygon points="407.65,488.02 411.35,488.02 409.5,491.35" fill="#fff" stroke="#111" stroke-width="0.7"/>
<polygon points="474.45,481.82 478.15000000000003,481.82 476.3,485.15000000000003" fill="#fff" stroke="#111" stroke-width="0.7"/>
<polygon points="341.15,503.62 344.85,503.62 343,506.95000000000005" fill="#111" stroke="#111" stroke-width="0.7"/>
<circle cx="409.5" cy="523" r="1.65" fill="#111" stroke="#111" stroke-width="0.7"/>
<circle cx="476.3" cy="557" r="1.65" fill="#111" stroke="#111" stroke-width="0.7"/>
<circle cx="343" cy="511" r="1.65" fill="#111" stroke="#111" stroke-width="0.7"/>
<circle cx="409.5" cy="527" r="1.65" fill="#111" stroke="#111" stroke-width="0.7"/>
<circle cx="476.3" cy="555.5" r="1.65" fill="#111" stroke="#111" stroke-width="0.7"/>
<circle cx="343" cy="512.6" r="1.65" fill="#fff" stroke="#111" stroke-width="0.7"/>
<polygon points="409.5,513.4499999999999 411.45,515.4 409.5,517.35 407.55,515.4" fill="#fff" stroke="#111" stroke-width="0.7"/>
<polygon points="476.3,513.4499999999999 478.25,515.4 476.3,517.35 474.35,515.4" fill="#fff" stroke="#111" stroke-width="0.7"/>
<polygon points="341.15,520.98 344.85,520.98 343,517.65" fill="#fff" stroke="#111" stroke-width="0.7"/>
<circle cx="409.5" cy="519.5" r="1.65" fill="#fff" stroke="#111" stroke-width="0.7"/>
<polygon points="474.45,522.92 478.15000000000003,522.92 476.3,526.25" fill="#111" stroke="#111" stroke-width="0.7"/>
<circle cx="343" cy="524.1" r="1.65" fill="#111" stroke="#111" stroke-width="0.7"/>
<circle cx="409.5" cy="525" r="1.65" fill="#111" stroke="#111" stroke-width="0.7"/>
<polygon points="476.3,513.4499999999999 478.25,515.4 476.3,517.35 474.35,515.4" fill="#fff" stroke="#111" stroke-width="0.7"/>
<polygon points="341.15,530.78 344.85,530.78 343,527.4499999999999" fill="#fff" stroke="#111" stroke-width="0.7"/>
<circle cx="409.5" cy="531.8" r="1.65" fill="#fff" stroke="#111" stroke-width="0.7"/>
<circle cx="476.3" cy="562" r="1.65" fill="#fff" stroke="#111" stroke-width="0.7"/>
<circle cx="343" cy="532.9" r="1.65" fill="#111" stroke="#111" stroke-width="0.7"/>
<circle cx="409.5" cy="538.3" r="1.65" fill="#111" stroke="#111" stroke-width="0.7"/>
<circle cx="476.3" cy="536" r="1.65" fill="#111" stroke="#111" stroke-width="0.7"/>
<circle cx="343" cy="535.8" r="1.65" fill="#fff" stroke="#111" stroke-width="0.7"/>
<circle cx="409.5" cy="528.5" r="1.65" fill="#111" stroke="#111" stroke-width="0.7"/>
<circle cx="476.3" cy="529" r="1.65" fill="#111" stroke="#111" stroke-width="0.7"/>
<circle cx="343" cy="538" r="1.65" fill="#111" stroke="#111" stroke-width="0.7"/>
<circle cx="409.5" cy="540.8" r="1.65" fill="#fff" stroke="#111" stroke-width="0.7"/>
<circle cx="476.3" cy="538.3" r="1.65" fill="#111" stroke="#111" stroke-width="0.7"/>
<circle cx="343" cy="542.4" r="1.65" fill="#111" stroke="#111" stroke-width="0.7"/>
<circle cx="409.5" cy="544" r="1.65" fill="#fff" stroke="#111" stroke-width="0.7"/>
<circle cx="476.3" cy="544" r="1.65" fill="#111" stroke="#111" stroke-width="0.7"/>
<polygon points="341.15,545.98 344.85,545.98 343,542.65" fill="#fff" stroke="#111" stroke-width="0.7"/>
<circle cx="409.5" cy="547.3" r="1.65" fill="#111" stroke="#111" stroke-width="0.7"/>
<circle cx="476.3" cy="547.3" r="1.65" fill="#fff" stroke="#111" stroke-width="0.7"/>
<circle cx="343" cy="550.2" r="1.65" fill="#111" stroke="#111" stroke-width="0.7"/>
<circle cx="409.5" cy="550" r="1.65" fill="#111" stroke="#111" stroke-width="0.7"/>
<polygon points="476.3,550.25 478.25,552.2 476.3,554.1500000000001 474.35,552.2" fill="#fff" stroke="#111" stroke-width="0.7"/>
<circle cx="343" cy="552.5" r="1.65" fill="#111" stroke="#111" stroke-width="0.7"/>
<circle cx="409.5" cy="552.2" r="1.65" fill="#111" stroke="#111" stroke-width="0.7"/>
<circle cx="476.3" cy="534" r="1.65" fill="#111" stroke="#111" stroke-width="0.7"/>
<circle cx="343" cy="554.6" r="1.65" fill="#fff" stroke="#111" stroke-width="0.7"/>
<circle cx="409.5" cy="556.3" r="1.65" fill="#fff" stroke="#111" stroke-width="0.7"/>
<circle cx="476.3" cy="558" r="1.65" fill="#111" stroke="#111" stroke-width="0.7"/>
<circle cx="343" cy="557.1" r="1.65" fill="#fff" stroke="#111" stroke-width="0.7"/>
<circle cx="409.5" cy="557" r="1.65" fill="#fff" stroke="#111" stroke-width="0.7"/>
<circle cx="476.3" cy="555.5" r="1.65" fill="#111" stroke="#111" stroke-width="0.7"/>
<polygon points="341.15,561.88 344.85,561.88 343,558.55" fill="#fff" stroke="#111" stroke-width="0.7"/>
<polygon points="407.65,562.6800000000001 411.35,562.6800000000001 409.5,559.35" fill="#fff" stroke="#111" stroke-width="0.7"/>
<polygon points="474.45,570.78 478.15000000000003,570.78 476.3,567.4499999999999" fill="#fff" stroke="#111" stroke-width="0.7"/>
<circle cx="343" cy="547" r="1.65" fill="#fff" stroke="#111" stroke-width="0.7"/>
<circle cx="409.5" cy="549" r="1.65" fill="#111" stroke="#111" stroke-width="0.7"/>
<rect x="474.75" y="560.45" width="3.1" height="3.1" fill="#fff" stroke="#111" stroke-width="0.7"/>
</g></svg>
</body></html>
